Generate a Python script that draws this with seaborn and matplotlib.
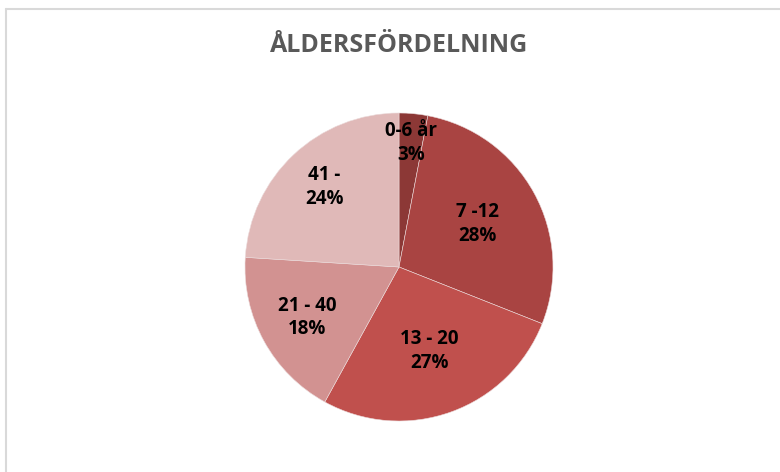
import matplotlib
matplotlib.use('Agg')
import matplotlib.pyplot as plt
from matplotlib.lines import Line2D
import seaborn as sns
import numpy as np

sns.set_theme(style="white")
plt.rcParams['font.family'] = ['Open Sans', 'DejaVu Sans']

# data
age_groups = ['0-6 år', '7 -12', '13 - 20', '21 - 40', '41 -']
shares = [3, 28, 27, 18, 24]
slice_colors = ['#8C3836', '#A94442', '#C0504D', '#D29291', '#E0B9B8']

# label distance from centre (fraction of radius), per slice
label_r = [0.81, 0.58, 0.58, 0.68, 0.71]

fig = plt.figure(figsize=(7.8, 4.72), dpi=100)
fig.patch.set_facecolor('white')

# light frame (left + top edges visible)
fig.add_artist(Line2D([6 / 780, 6 / 780], [0, 1 - 9 / 472], color='#D9D9D9', lw=1.5))
fig.add_artist(Line2D([6 / 780, 1], [1 - 9 / 472, 1 - 9 / 472], color='#D9D9D9', lw=1.5))

ax = fig.add_axes([245 / 780, 51 / 472, 308 / 780, 308 / 472])
wedges, _ = ax.pie(shares, colors=slice_colors, startangle=90, counterclock=False,
                   radius=1, wedgeprops=dict(edgecolor='#EBDADA', linewidth=0.4))
ax.set_xlim(-1, 1)
ax.set_ylim(-1, 1)
ax.set_aspect('equal')
ax.axis('off')

for w, name, val, r in zip(wedges, age_groups, shares, label_r):
    mid = np.deg2rad((w.theta1 + w.theta2) / 2)
    x, y = r * np.cos(mid), r * np.sin(mid)
    ax.text(x, y, f"{name}\n{val}%", ha='center', va='center',
            fontsize=13.5, fontweight='bold', color='black', linespacing=1.25)

fig.text(399 / 780, 1 - 45 / 472, 'ÅLDERSFÖRDELNING', ha='center', va='center',
         fontsize=18, fontweight='bold', color='#595959')

fig.savefig('out.png', dpi=100, facecolor='white')
